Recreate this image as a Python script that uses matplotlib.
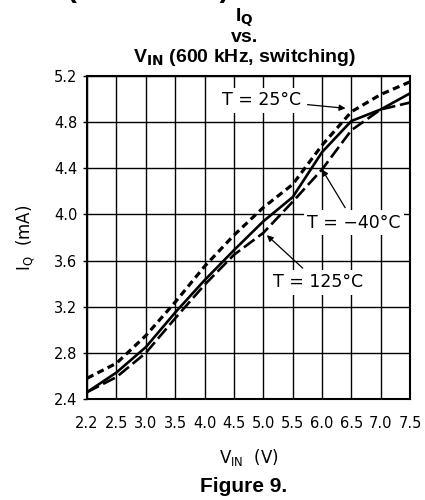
import numpy as np
import matplotlib

matplotlib.use("Agg")
import matplotlib.pyplot as plt  # noqa: E402

# supply voltage sample points (V)
vin = [2.2, 2.5, 3.0, 3.5, 4.0, 4.5, 5.0, 5.5, 6.0, 6.5, 7.0, 7.5]

# quiescent current (mA)
iq_m40 = [2.46, 2.63, 2.85, 3.15, 3.43, 3.69, 3.94, 4.15, 4.54, 4.81, 4.91, 5.05]
iq_25 = [2.58, 2.71, 2.95, 3.24, 3.55, 3.82, 4.06, 4.26, 4.60, 4.89, 5.04, 5.15]
iq_125 = [2.46, 2.59, 2.80, 3.10, 3.39, 3.65, 3.84, 4.11, 4.39, 4.73, 4.91, 4.97]

xticks = vin
xtick_labels = ["2.2", "2.5", "3.0", "3.5", "4.0", "4.5", "5.0", "5.5", "6.0", "6.5", "7.0", "7.5"]
yticks = [2.4, 2.8, 3.2, 3.6, 4.0, 4.4, 4.8, 5.2]
ytick_labels = ["2.4", "2.8", "3.2", "3.6", "4.0", "4.4", "4.8", "5.2"]

TICK_FONT = "DejaVu Sans"
TITLE_FONT = "Liberation Sans"


def fwd(v):
    v = np.asarray(v, dtype=float)
    return np.where(v < 2.5, (v - 2.2) / 0.3, 1 + (v - 2.5) / 0.5)


def inv(i):
    i = np.asarray(i, dtype=float)
    return np.where(i < 1, 2.2 + 0.3 * i, 2.5 + 0.5 * (i - 1))


fig = plt.figure(figsize=(4.25, 5.0), dpi=100)
ax = fig.add_axes([0.205, 0.202, 0.76, 0.646])
ax.set_xscale("function", functions=(fwd, inv))

ax.plot(vin, iq_25, color="black", lw=2.3, dashes=(2.2, 1.4), zorder=3)
ax.plot(vin, iq_m40, color="black", lw=1.9, zorder=3)
ax.plot(vin, iq_125, color="black", lw=1.9, dashes=(5.0, 1.8), zorder=3)

ax.set_xlim(2.2, 7.5)
ax.set_ylim(2.4, 5.2)
ax.set_xticks(xticks)
ax.set_xticklabels(xtick_labels, family=TICK_FONT, fontsize=10.5)
ax.set_yticks(yticks)
ax.set_yticklabels(ytick_labels, family=TICK_FONT, fontsize=10.5)
ax.tick_params(axis="x", length=0, pad=12)
ax.tick_params(axis="y", length=3, width=1, pad=4)
ax.grid(True, color="black", lw=1.0)
ax.set_axisbelow(True)
for sp in ax.spines.values():
    sp.set_linewidth(1.5)

box = dict(boxstyle="square,pad=0.2", fc="white", ec="none")
arrow = dict(arrowstyle="-|>", color="black", lw=0.9, mutation_scale=9, shrinkA=2, shrinkB=0)
ax.annotate("T = 25°C", xy=(6.4, 4.92), xytext=(4.3, 4.99), family=TICK_FONT, fontsize=12.5,
            ha="left", va="center", bbox=box, arrowprops=arrow, zorder=4)
ax.annotate("T = \u221240°C", xy=(6.0, 4.39), xytext=(5.75, 3.93), family=TICK_FONT, fontsize=12.5,
            ha="left", va="center", bbox=box, arrowprops=arrow, zorder=4)
ax.annotate("T = 125°C", xy=(5.06, 3.82), xytext=(5.17, 3.41), family=TICK_FONT, fontsize=12.5,
            ha="left", va="center", bbox=box, arrowprops=arrow, zorder=4)

ax.set_xlabel("V$_{\\mathregular{IN}}$  (V)", family=TICK_FONT, fontsize=12, labelpad=12)
ax.set_ylabel("I$_{\\mathregular{Q}}$  (mA)", family=TICK_FONT, fontsize=12, labelpad=12)

fig.text(0.575, 0.964, "I$_{\\mathbf{Q}}$", family=TITLE_FONT, weight="bold", fontsize=14,
         ha="center", va="center")
fig.text(0.575, 0.926, "vs.", family=TITLE_FONT, weight="bold", fontsize=14, ha="center", va="center")
fig.text(0.575, 0.884, "V$_{\\mathbf{IN}}$ (600 kHz, switching)", family=TITLE_FONT, weight="bold",
         fontsize=14, ha="center", va="center")
fig.text(0.573, 0.028, "Figure 9.", family=TITLE_FONT, weight="bold", fontsize=15, ha="center", va="center")
# heading from the page above, cut off by the crop
fig.text(0.348, 1.006, "(Continued)", family=TITLE_FONT, weight="bold", fontsize=21, ha="center",
         va="baseline")

fig.savefig("out.png", dpi=100)
